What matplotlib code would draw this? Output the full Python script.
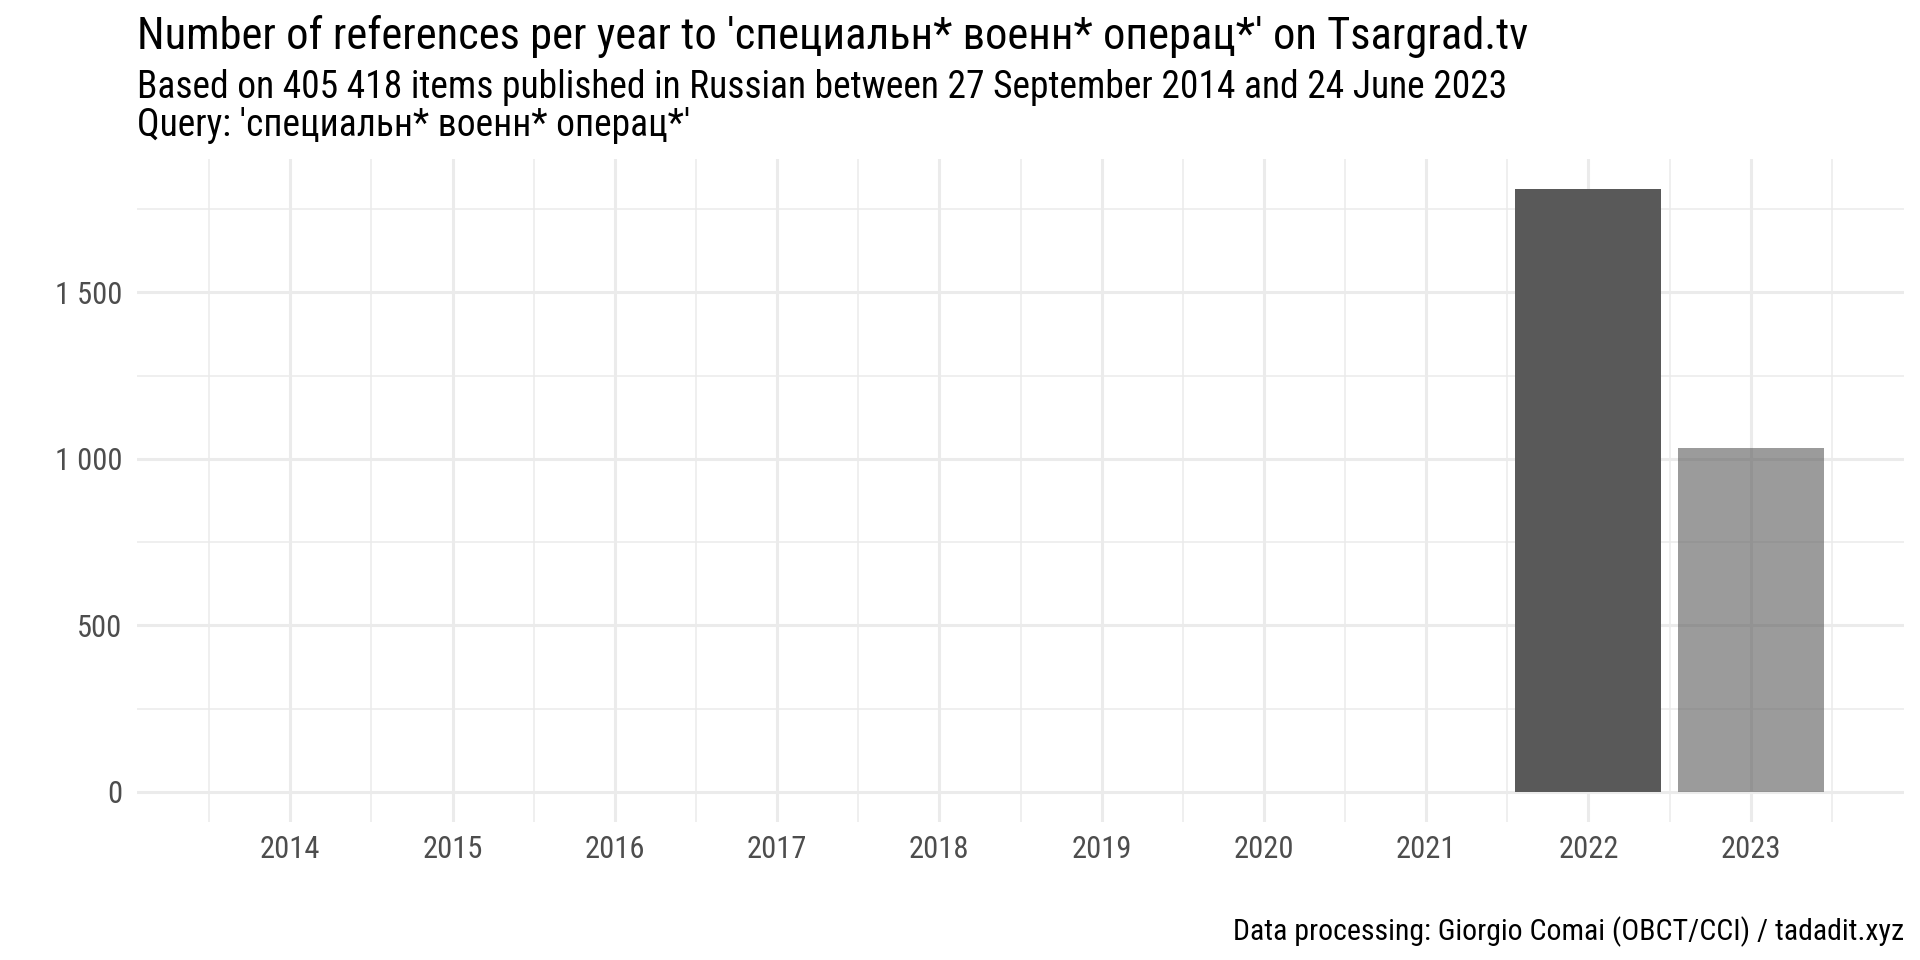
import matplotlib
matplotlib.use("Agg")
import matplotlib.pyplot as plt
from matplotlib.ticker import FixedLocator, FuncFormatter

plt.rcParams['font.family'] = ['Roboto Condensed', 'Liberation Sans Narrow', 'Roboto', 'DejaVu Sans']

# data
years = [2014, 2015, 2016, 2017, 2018, 2019, 2020, 2021, 2022, 2023]
counts = [0, 0, 0, 0, 0, 0, 0, 0, 1810, 1032]
alphas = [1, 1, 1, 1, 1, 1, 1, 1, 1, 0.6]   # last year is partial
title = "Number of references per year to 'специальн* военн* операц*' on Tsargrad.tv"
subtitle1 = "Based on 405 418 items published in Russian between 27 September 2014 and 24 June 2023"
subtitle2 = "Query: 'специальн* военн* операц*'"
caption = "Data processing: Giorgio Comai (OBCT/CCI) / tadadit.xyz"
y_major = [0, 500, 1000, 1500]
y_minor = [250, 750, 1250, 1750]

W, H = 1920, 960
fig = plt.figure(figsize=(W / 100, H / 100), dpi=100)
fig.patch.set_facecolor("white")

left, right, top, bottom = 137, 1904, 159, 822
ax = fig.add_axes([left / W, 1 - bottom / H, (right - left) / W, (bottom - top) / H])

for x, c, a in zip(years, counts, alphas):
    ax.bar(x, c, width=0.9, color="#595959", alpha=a, linewidth=0, zorder=3)

# ggplot-style limits with 5% expansion
xlo, xhi = years[0] - 0.45, years[-1] + 0.45
xpad = (xhi - xlo) * 0.05
ax.set_xlim(xlo - xpad, xhi + xpad)
ymax = max(counts)
ax.set_ylim(-ymax * 0.05, ymax * 1.05)

ax.xaxis.set_major_locator(FixedLocator(years))
ax.xaxis.set_minor_locator(FixedLocator([y + 0.5 for y in [years[0] - 1] + years]))
ax.yaxis.set_major_locator(FixedLocator(y_major))
ax.yaxis.set_minor_locator(FixedLocator(y_minor))
ax.yaxis.set_major_formatter(FuncFormatter(lambda v, p: f"{int(v):,}".replace(",", " ")))

ax.grid(which="major", color="#ebebeb", linewidth=2.2, zorder=0)
ax.grid(which="minor", color="#ebebeb", linewidth=1.1, zorder=0)
ax.set_axisbelow(True)
for s in ax.spines.values():
    s.set_visible(False)
ax.tick_params(which="both", length=0)
ax.tick_params(axis="x", labelsize=22, labelcolor="#4d4d4d", pad=9.6)
ax.tick_params(axis="y", labelsize=22, labelcolor="#4d4d4d", pad=10.5)

fig.text(left / W, 1 - 49 / H, title, fontsize=32, color="black", ha="left", va="baseline")
fig.text(left / W, 1 - 98 / H, subtitle1, fontsize=27, color="black", ha="left", va="baseline")
fig.text(left / W, 1 - 136 / H, subtitle2, fontsize=27, color="black", ha="left", va="baseline")
fig.text(right / W, 1 - 940 / H, caption, fontsize=21.5, color="black", ha="right", va="baseline")

fig.savefig("out.png", dpi=100, facecolor="white")
